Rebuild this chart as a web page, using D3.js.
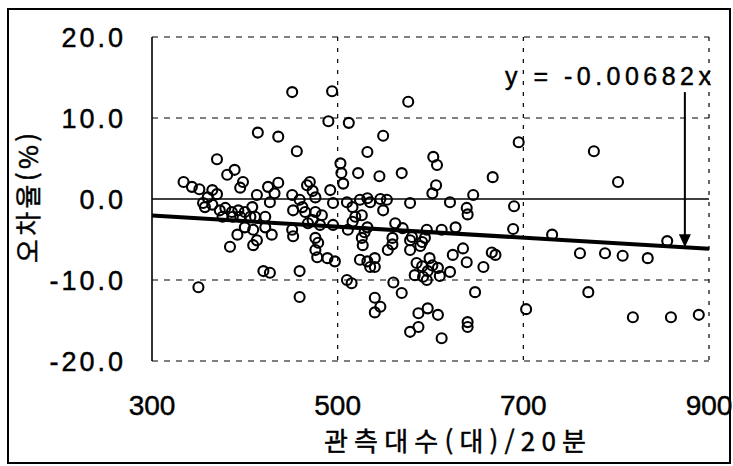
<!DOCTYPE html>
<html lang="ko">
  <head>
    <meta charset="UTF-8" />
    <title>오차율 산점도</title>
    <script src="https://d3js.org/d3.v7.min.js"></script>
    <style>
      body {
        margin: 0;
        background: #fff;
      }
      svg text {
        fill: #000;
        stroke: #000;
        stroke-width: 0.45px;
      }
      .num {
        font-family: "Liberation Sans", Arial, sans-serif;
      }
      .kor {
        font-family: "Noto Sans CJK KR", sans-serif;
      }
    </style>
  </head>
  <body>
    <svg id="chart" width="733" height="466"></svg>
    <script>
      // 관측대수 (x) / 오차율 (y)
      const obsCount = [
        451, 494, 490, 512, 576, 414, 436, 456, 370, 532, 549, 695, 776, 802, 603, 607, 503, 504, 506, 522, 545, 569, 606, 602, 667,
        389, 381, 398, 395, 334, 343, 351, 365, 360, 355, 370, 413, 425, 436, 432, 427, 470, 467, 473, 451, 459, 452, 492, 510, 516,
        495, 524, 532, 546, 553, 549, 578, 621, 646, 639, 640, 690, 535, 476,
        373, 379, 386, 393, 400, 408, 376, 387, 395, 406, 411, 422, 400, 409, 422, 429, 413, 392, 384, 409, 451, 452, 357, 365,
        462, 465, 476, 483, 473, 468, 481, 476, 479, 495, 511, 519, 516, 526, 532, 526, 562, 559, 570, 580, 591, 596, 612, 627,
        689, 731, 855, 594,
        476, 478, 489, 497, 524, 532, 535, 540, 540, 527, 554, 559, 578, 589, 585, 591, 583, 592, 597, 599, 602, 596, 608, 610,
        621, 624, 635, 639, 657, 666, 670, 578, 529,
        350, 420, 427, 459, 459, 510, 515, 560, 569, 540, 546, 540, 587, 578, 587, 597, 608, 612, 640, 640, 648, 703, 770, 818,
        859, 889, 761, 788, 807, 834
      ];
      const errorRate = [
        13.2, 13.3, 9.6, 9.4, 12.0, 8.2, 7.7, 5.9, 4.9, 5.8, 7.8, 7.0, 5.9, 2.1, 5.2, 4.2, 4.4, 3.2, 1.9, 3.2, 2.8, 3.2, 1.7, 0.7, 2.7,
        3.6, 3.0, 2.1, 1.4, 2.1, 1.5, 1.2, 1.1, 0.2, -0.5, 0.6, 0.5, 1.5, 2.0, 0.7, -0.4, 2.1, 1.7, 1.0, 0.5, -0.1, -1.4, 1.1, -0.4, -1.0,
        -0.5, -0.1, 0.1, 0.0, -0.1, -1.4, -0.5, -0.4, 0.5, -1.1, -1.9, -0.9, -0.4, 0.2,
        -1.4, -1.1, -1.6, -1.4, -1.6, -1.0, -2.2, -2.2, -2.2, -2.2, -2.2, -2.2, -3.5, -3.8, -3.5, -4.4, -5.1, -4.4, -5.9, -5.7, -3.8, -4.6, -1.0, -0.7,
        -1.0, -1.6, -1.6, -2.0, -2.6, -3.0, -3.2, -4.8, -5.4, -3.2, -3.8, -2.2, -2.8, -2.0, -3.5, -4.8, -3.0, -4.8, -3.6, -4.7, -5.3, -3.8, -3.8, -3.5,
        -3.7, -4.4, -5.2, -4.8,
        -6.3, -7.2, -7.3, -7.7, -7.5, -7.7, -8.4, -7.3, -8.4, -5.7, -6.3, -5.6, -6.3, -5.8, -7.9, -8.3, -9.4, -9.6, -8.9, -7.3, -8.2, -10.0, -8.5, -9.5,
        -9.0, -6.9, -6.1, -7.8, -8.4, -6.6, -6.9, -5.1, -4.1,
        -10.9, -8.9, -9.1, -8.9, -12.1, -10.0, -10.4, -10.3, -11.6, -12.2, -13.3, -14.0, -14.1, -16.4, -15.8, -13.5, -14.3, -17.2, -15.2, -15.8, -11.5, -13.6, -11.5, -14.6,
        -14.6, -14.3, -6.7, -6.7, -7.0, -7.3
      ];

      const xTicks = [300, 500, 700, 900];
      const yTicks = [-20, -10, 0, 10, 20];
      const slope = -0.00682;
      const arrowAt = 874;

      const svg = d3.select("#chart");

      const x = d3.scaleLinear().domain([300, 900]).range([152, 709]);
      const y = d3.scaleLinear().domain([-20, 20]).range([361, 37]);

      // 바깥 테두리
      svg.append("rect")
        .attr("x", 8).attr("y", 9)
        .attr("width", 722).attr("height", 454)
        .attr("fill", "none")
        .attr("stroke", "#000")
        .attr("stroke-width", 2);

      // 가로 격자
      svg.selectAll(".hgrid")
        .data(yTicks)
        .enter()
        .append("line")
        .attr("x1", x(300)).attr("x2", x(900))
        .attr("y1", (d) => y(d)).attr("y2", (d) => y(d))
        .attr("stroke", "#000")
        .attr("stroke-width", (d) => (d === 0 ? 1.5 : 1.2))
        .attr("stroke-dasharray", (d) => (d === 0 ? null : "6,6"));

      // 세로 격자
      svg.selectAll(".vgrid")
        .data(xTicks.slice(1))
        .enter()
        .append("line")
        .attr("x1", (d) => x(d)).attr("x2", (d) => x(d))
        .attr("y1", y(20)).attr("y2", y(-20))
        .attr("stroke", "#000")
        .attr("stroke-width", 1.2)
        .attr("stroke-dasharray", "4,7");

      // y축
      svg.append("line")
        .attr("x1", x(300)).attr("x2", x(300))
        .attr("y1", y(20)).attr("y2", y(-20))
        .attr("stroke", "#000")
        .attr("stroke-width", 1.6);

      // 눈금 글자
      svg.selectAll(".ylab")
        .data(yTicks)
        .enter()
        .append("text")
        .attr("class", "num")
        .attr("x", 126)
        .attr("y", (d) => y(d))
        .attr("dy", "0.36em")
        .attr("text-anchor", "end")
        .attr("font-size", 27)
        .attr("letter-spacing", 3)
        .text((d) => d3.format(".1f")(d).replace("−", "-"));

      svg.selectAll(".xlab")
        .data(xTicks)
        .enter()
        .append("text")
        .attr("class", "num")
        .attr("x", (d) => x(d))
        .attr("y", 415)
        .attr("text-anchor", "middle")
        .attr("font-size", 28)
        .text((d) => d);

      // 축 제목
      svg.append("text")
        .attr("class", "kor")
        .attr("x", 455)
        .attr("y", 451)
        .attr("text-anchor", "middle")
        .attr("font-size", 26)
        .attr("textLength", 262)
        .attr("lengthAdjust", "spacing")
        .text("관측대수(대)/20분");

      svg.append("text")
        .attr("class", "kor")
        .attr("transform", "translate(38,198) rotate(-90)")
        .attr("text-anchor", "middle")
        .attr("font-size", 26)
        .attr("textLength", 130)
        .attr("lengthAdjust", "spacing")
        .text("오차율(%)");

      // 점
      const points = obsCount.map((d, i) => ({ x: d, y: errorRate[i] }));
      svg.selectAll(".pt")
        .data(points)
        .enter()
        .append("circle")
        .attr("cx", (d) => x(d.x))
        .attr("cy", (d) => y(d.y))
        .attr("r", 5)
        .attr("fill", "none")
        .attr("stroke", "#000")
        .attr("stroke-width", 2.1);

      // 회귀선
      svg.append("line")
        .attr("x1", x(300)).attr("y1", y(slope * 300))
        .attr("x2", x(900)).attr("y2", y(slope * 900))
        .attr("stroke", "#000")
        .attr("stroke-width", 4);

      // 화살표와 식
      const tipY = y(slope * arrowAt);
      svg.append("line")
        .attr("x1", x(arrowAt)).attr("x2", x(arrowAt))
        .attr("y1", y(13.2)).attr("y2", tipY - 10)
        .attr("stroke", "#000")
        .attr("stroke-width", 2);
      svg.append("path")
        .attr("d", `M${x(arrowAt) - 6},${tipY - 13} L${x(arrowAt) + 6},${tipY - 13} L${x(arrowAt)},${tipY} Z`)
        .attr("fill", "#000");

      svg.append("text")
        .attr("class", "num")
        .attr("x", 505)
        .attr("y", 85)
        .attr("font-size", 25)
        .attr("textLength", 206)
        .attr("lengthAdjust", "spacing")
        .text("y = -0.00682x");
    </script>
  </body>
</html>
